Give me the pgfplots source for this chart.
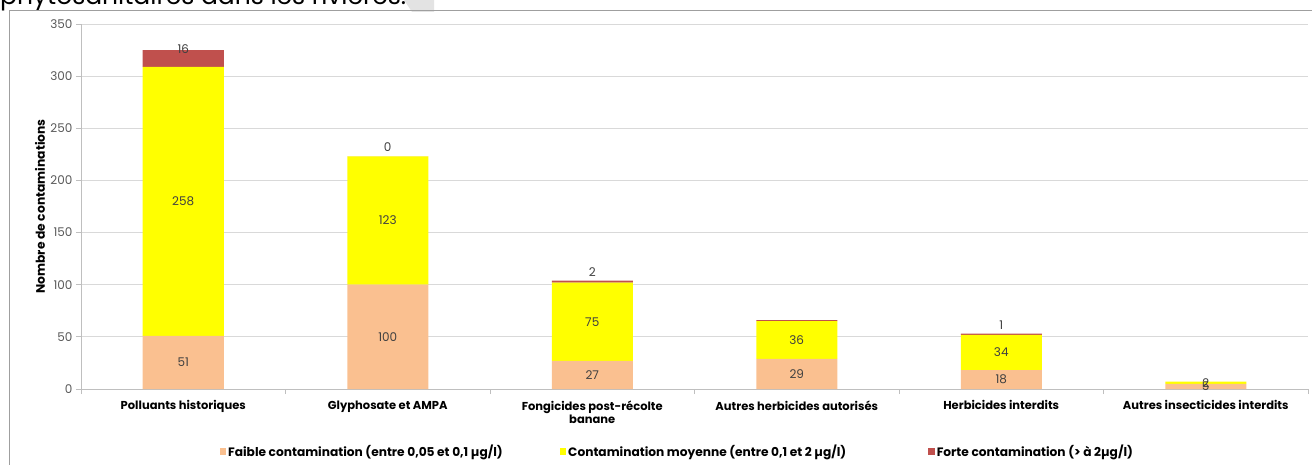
\documentclass[border=0pt]{standalone}
\usepackage{fontspec}
\setmainfont{Poppins}
\usepackage{pgfplots}
\usepackage{pgfplotstable}
\pgfplotsset{compat=1.18}
\definecolor{cfaible}{HTML}{FAC090}
\definecolor{cmoy}{HTML}{FFFF00}
\definecolor{cforte}{HTML}{C0504D}
\definecolor{gridc}{HTML}{D9D9D9}
\definecolor{axc}{HTML}{BFBFBF}
\definecolor{labc}{HTML}{404040}
\definecolor{tickc}{HTML}{595959}

\pgfplotstableread{
x y lab
0 51 51
1 100 100
2 27 27
3 29 29
4 18 18
5 5 5
}\faible
\pgfplotstableread{
x y lab
0 258 258
1 123 123
2 75 75
3 36 36
4 34 34
5 2 2
}\moyenne
\pgfplotstableread{
x y lab
0 16 16
1 0.01 0
2 2 2
3 1 {}
4 1 1
5 0 {}
}\forte

\begin{document}
\begin{tikzpicture}
\useasboundingbox (0pt,0pt) rectangle (1312pt,464pt);
\clip (0pt,0pt) rectangle (1312pt,464pt);
\fill[gray!22] (404pt,464pt) -- (434pt,464pt) -- (434pt,452pt) -- (412pt,452pt) -- cycle;
\node[anchor=base west, inner sep=0pt, font=\fontsize{25}{26}\selectfont] at (0pt,459pt) {phytosanitaires dans les rivières.};
\draw[gray!75, line width=1pt] (9.5pt,-10pt) rectangle (1330pt,453pt);
\begin{axis}[
  at={(81pt,75pt)}, anchor=south west,
  scale only axis, width=1227pt, height=365pt,
  ybar stacked, bar width=81pt,
  xmin=-0.5, xmax=5.5, ymin=0, ymax=350,
  ytick={0,50,...,350},
  ymajorgrids, grid style={gridc, line width=0.8pt},
  axis x line*=bottom, axis y line*=left,
  axis line style={axc, line width=0.8pt, -},
  tick align=outside,
  major tick length=5pt, minor tick length=5pt,
  xtick={0,...,5},
  minor xtick={-0.5,0.5,...,5.5},
  major x tick style={draw=none},
  minor x tick style={axc, line width=0.8pt},
  y tick style={axc, line width=0.8pt},
  xticklabels={Polluants historiques, Glyphosate et AMPA, {Fongicides post-récolte\\banane}, Autres herbicides autorisés, Herbicides interdits, Autres insecticides interdits},
  x tick label style={font=\fontsize{11.5}{13}\selectfont\bfseries, align=center, yshift=-3pt},
  y tick label style={font=\fontsize{12}{14}\selectfont, text=tickc},
  /pgf/number format/assume math mode=true,
  ylabel={Nombre de contaminations},
  every axis y label/.style={at={(axis description cs:-0.0334,0.5)}, rotate=90, anchor=center, font=\fontsize{12.3}{14}\selectfont\bfseries},
  legend columns=3,
  legend style={at={(axis description cs:0.486,-0.170)}, anchor=center, draw=none, fill=none,
    font=\fontsize{12.2}{14}\selectfont\bfseries,
    /tikz/column 2/.style={column sep=55pt},
    /tikz/column 4/.style={column sep=80pt}},
  legend cell align=left,
]
\addplot[fill=cfaible, draw=none, point meta=explicit symbolic,
  nodes near coords,
  nodes near coords style={anchor=center, font=\fontsize{12}{14}\selectfont, text=labc},
  legend image code/.code={\fill[cfaible] (0pt,-3.5pt) rectangle (6.5pt,3pt);}]
  table[x=x, y=y, meta=lab] {\faible};
\addlegendentry{Faible contamination (entre 0,05 et 0,1 µg/l)}
\addplot[fill=cmoy, draw=none, point meta=explicit symbolic,
  nodes near coords,
  nodes near coords style={anchor=center, font=\fontsize{12}{14}\selectfont, text=labc},
  legend image code/.code={\fill[cmoy] (0pt,-3.5pt) rectangle (6.5pt,3pt);}]
  table[x=x, y=y, meta=lab] {\moyenne};
\addlegendentry{Contamination moyenne (entre 0,1 et 2 µg/l)}
\addplot[fill=cforte, draw=none, point meta=explicit symbolic,
  nodes near coords,
  nodes near coords style={anchor=south, yshift=1.5pt, font=\fontsize{12}{14}\selectfont, text=labc},
  legend image code/.code={\fill[cforte] (0pt,-3.5pt) rectangle (6.5pt,3pt);}]
  table[x=x, y=y, meta=lab] {\forte};
\addlegendentry{Forte contamination (> à 2µg/l)}
\end{axis}
\end{tikzpicture}
\end{document}
